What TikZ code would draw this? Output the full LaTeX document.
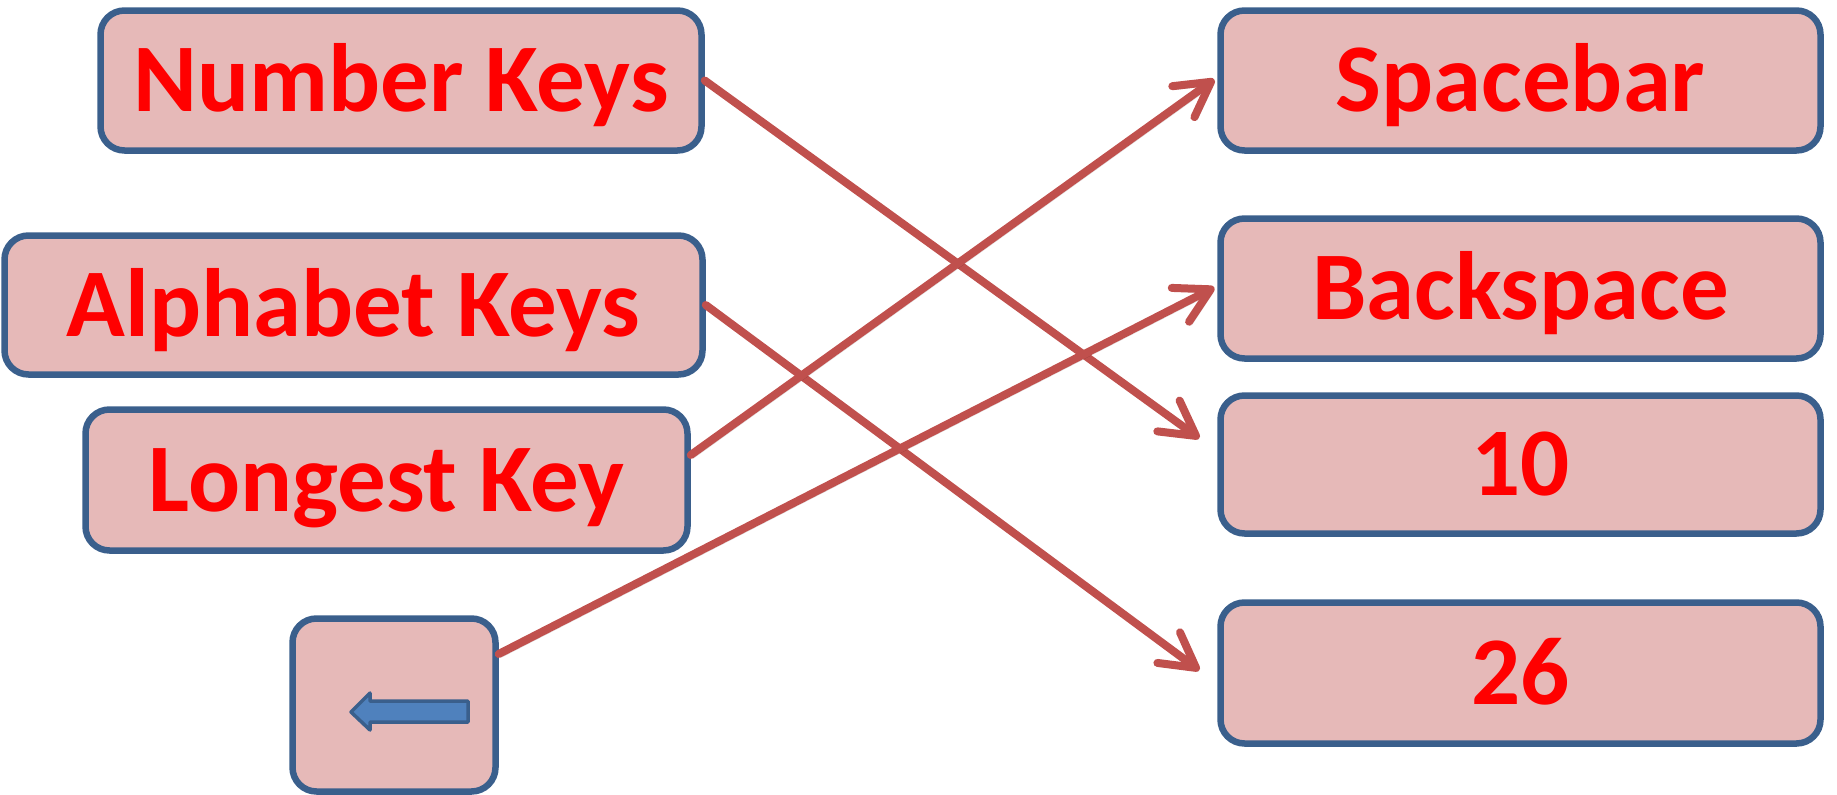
\documentclass[tikz,border=0pt]{standalone}
\usepackage{fontspec}
\setmainfont{Carlito}
\usetikzlibrary{arrows.meta,calc}
\definecolor{boxfill}{HTML}{E6B9B8}
\definecolor{boxline}{HTML}{3A5F8C}
\definecolor{connC}{HTML}{C0504D}
\definecolor{blueA}{HTML}{4F81BD}
\begin{document}
\begin{tikzpicture}[x=1pt,y=-1pt,
  keybox/.style={draw=boxline, line width=6.5pt, fill=boxfill, rounded corners=24pt,
    inner sep=0pt, text=red, font=\fontsize{97}{100}\selectfont\bfseries,
    text height=62pt, text depth=0pt, align=center},
  connector/.style={draw=connC, line width=8pt, line cap=round, line join=round,
    -{Straight Barb[length=34pt,width=38pt,line cap=round,line join=round]},
    preaction={draw=black, draw opacity=0.15, transform canvas={xshift=2.5pt,yshift=-3.5pt}}}]
\useasboundingbox (0,0) rectangle (1837,795);
% left column
\node[keybox, minimum width=601pt, minimum height=140pt] (nk) at (401,80.5) {Number Keys};
\node[keybox, minimum width=698pt, minimum height=139pt] (ak) at (353.5,305) {Alphabet Keys};
\node[keybox, minimum width=602pt, minimum height=141pt] (lk) at (386.5,480) {Longest Key};
\node[keybox, minimum width=203pt, minimum height=173pt] (ab) at (394,705) {};
% right column
\node[keybox, minimum width=600pt, minimum height=140pt] (sb) at (1520.5,80.5) {Spacebar};
\node[keybox, minimum width=600pt, minimum height=140pt] (bs) at (1520.5,288.5) {Backspace};
\node[keybox, minimum width=600pt, minimum height=138pt] (ten) at (1520.5,464.5) {10};
\node[keybox, minimum width=600pt, minimum height=141pt] (tsix) at (1520.5,673) {26};
% blue arrow glyph in the small key
\draw[draw=boxline, fill=blueA, line width=3.5pt, line join=round]
  (351,712) -- (370,693) -- (370,701) -- (468,701) -- (468,722) -- (370,722) -- (370,730) -- cycle;
% connector end points
\coordinate (tenend) at ($(ten.north west)+(-18,46)$);
\coordinate (tsixend) at ($(tsix.north west)+(-18,71)$);
% connectors
\draw[connector] (nk.east) -- (tenend);
\draw[connector] (ak.east) -- (tsixend);
\draw[connector] ($(lk.east)+(0,-25)$) -- ($(sb.west)+(-3,-1)$);
\draw[connector] ($(ab.east)+(0,-51)$) -- ($(bs.west)+(-3,-1)$);
\end{tikzpicture}
\end{document}
